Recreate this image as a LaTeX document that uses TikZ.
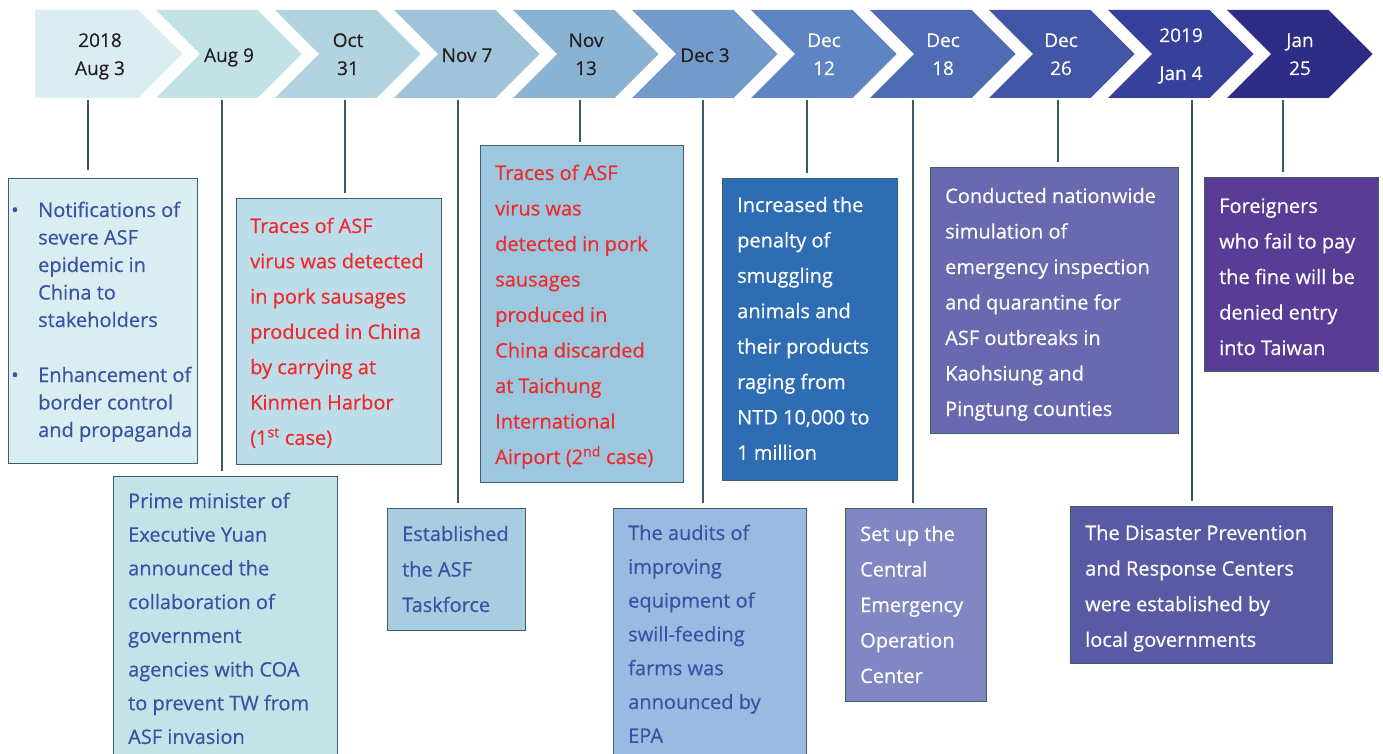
\documentclass[tikz,border=0pt]{standalone}
\usepackage{fontspec}
\setmainfont{Open Sans}[FakeBold=0.45]
\newfontfamily\datefam{Open Sans}[FakeBold=0.3]
\definecolor{cA}{HTML}{DAEDF1}
\definecolor{cB}{HTML}{C4E1E7}
\definecolor{cC}{HTML}{B2D3E0}
\definecolor{cD}{HTML}{9FC3D9}
\definecolor{cE}{HTML}{8AB2D3}
\definecolor{cF}{HTML}{729BCB}
\definecolor{cG}{HTML}{5F84C2}
\definecolor{cH}{HTML}{4F6BB4}
\definecolor{cI}{HTML}{4356A5}
\definecolor{cJ}{HTML}{37409A}
\definecolor{cK}{HTML}{2E2D85}
\definecolor{fA}{HTML}{DAEDF1}
\definecolor{fB}{HTML}{C5E2E8}
\definecolor{fC}{HTML}{BDDDEB}
\definecolor{fD}{HTML}{A8CDE0}
\definecolor{fE}{HTML}{9DC6DF}
\definecolor{fF}{HTML}{99BBE1}
\definecolor{fG}{HTML}{2E6DB4}
\definecolor{fH}{HTML}{8087C3}
\definecolor{fI}{HTML}{6A68AF}
\definecolor{fJ}{HTML}{5A5AA4}
\definecolor{fK}{HTML}{583C96}
\definecolor{boxline}{HTML}{3D6068}
\definecolor{connline}{HTML}{3B5A63}
\definecolor{tblue}{HTML}{3A52A4}
\definecolor{tred}{HTML}{EE2A2A}
\definecolor{tdark}{HTML}{231F20}
\tikzset{
  boxst/.style={draw=boxline, line width=1.4pt, anchor=north west, inner sep=0pt},
  txt/.style={anchor=base west, inner sep=0pt, text=#1},
  datest/.style={anchor=base, inner sep=0pt, text=#1, font={\datefam\fontsize{19}{28}\selectfont}},
  conn/.style={draw=connline, line width=1.2pt, shorten >=5pt},
}
\begin{document}
\begin{tikzpicture}[x=1pt,y=-1pt]
\useasboundingbox (0,0) rectangle (1383,754);
% chevrons
\fill[cA] (35,10) -- (138.5,10) -- (182.5,54) -- (138.5,98) -- (35,98) -- cycle;
\foreach \i/\col in {1/cB,2/cC,3/cD,4/cE,5/cF,6/cG,7/cH,8/cI,9/cJ,10/cK}{
  \pgfmathsetmacro\xl{156+119*(\i-1)}
  \fill[\col] (\xl,10) -- ++(101.5,0) -- ++(44,44) -- ++(-44,44) -- ++(-101.5,0) -- ++(44,-44) -- cycle;
}
% dates
\node[datest=tdark] (d0) at (100,47) {\begin{tabular}[t]{@{}c@{}}2018\\Aug 3\end{tabular}};
\node[datest=tdark] (d1) at (229,62) {Aug 9};
\node[datest=tdark] (d2) at (348,47) {\begin{tabular}[t]{@{}c@{}}Oct\\31\end{tabular}};
\node[datest=tdark] (d3) at (467,62) {Nov 7};
\node[datest=tdark] (d4) at (586,47) {\begin{tabular}[t]{@{}c@{}}Nov\\13\end{tabular}};
\node[datest=tdark] (d5) at (705,62) {Dec 3};
\node[datest=white] (d6) at (824,47) {\begin{tabular}[t]{@{}c@{}}Dec\\12\end{tabular}};
\node[datest=white] (d7) at (943,47) {\begin{tabular}[t]{@{}c@{}}Dec\\18\end{tabular}};
\node[datest=white] (d8) at (1061,47) {\begin{tabular}[t]{@{}c@{}}Dec\\26\end{tabular}};
\node[datest=white, font={\datefam\fontsize{19}{38}\selectfont}] (d9) at (1181,42) {\begin{tabular}[t]{@{}c@{}}2019\\Jan 4\end{tabular}};
\node[datest=white] (d10) at (1300,47) {\begin{tabular}[t]{@{}c@{}}Jan\\25\end{tabular}};
% boxes
\node[boxst, fill=fA, minimum width=189pt, minimum height=285pt] (b1) at (8,178) {};
\node[boxst, fill=fB, minimum width=224pt, minimum height=290pt] (b2) at (113,476) {};
\node[boxst, fill=fC, minimum width=205pt, minimum height=266pt] (b3) at (236,198) {};
\node[boxst, fill=fD, minimum width=138pt, minimum height=122pt] (b4) at (387,508) {};
\node[boxst, fill=fE, minimum width=203pt, minimum height=337pt] (b5) at (480,145) {};
\node[boxst, fill=fF, minimum width=193pt, minimum height=260pt] (b6) at (613,508) {};
\node[boxst, fill=fG, minimum width=175pt, minimum height=302pt] (b7) at (722,178) {};
\node[boxst, fill=fH, minimum width=141pt, minimum height=193pt] (b8) at (845,508) {};
\node[boxst, fill=fI, minimum width=248pt, minimum height=266pt] (b9) at (930,167) {};
\node[boxst, fill=fJ, minimum width=262pt, minimum height=157pt] (b10) at (1070,506) {};
\node[boxst, fill=fK, minimum width=174pt, minimum height=194pt] (b11) at (1204,177) {};
% connectors
\coordinate (k0) at (88,100);
\coordinate (k1) at (222,100);
\coordinate (k2) at (345,100);
\coordinate (k3) at (458,100);
\coordinate (k4) at (580,100);
\coordinate (k5) at (703,100);
\coordinate (k6) at (807,100);
\coordinate (k7) at (913,100);
\coordinate (k8) at (1058,100);
\coordinate (k9) at (1192,100);
\coordinate (k10) at (1283,100);
\draw[conn, shorten >=8pt] (k0) -- (k0 |- b1.north);
\draw[conn] (k1) -- (k1 |- b2.north);
\draw[conn] (k2) -- (k2 |- b3.north);
\draw[conn] (k3) -- (k3 |- b4.north);
\draw[conn, shorten >=3pt] (k4) -- (k4 |- b5.north);
\draw[conn] (k5) -- (k5 |- b6.north);
\draw[conn] (k6) -- (k6 |- b7.north);
\draw[conn] (k7) -- (k7 |- b8.north);
\draw[conn] (k8) -- (k8 |- b9.north);
\draw[conn] (k9) -- (k9 |- b10.north);
\draw[conn] (k10) -- (k10 |- b11.north);
% texts
\node[txt=tblue, font={\fontsize{20}{27.5}\selectfont}] (t1) at (11,217) {\begin{tabular}[t]{@{}p{27pt}@{}l@{}}
•&Notifications of\\ &severe ASF\\ &epidemic in\\ &China to\\ &stakeholders\\ & \\
•&Enhancement of\\ &border control\\ &and propaganda\end{tabular}};
\node[txt=tblue, font={\fontsize{20}{33.7}\selectfont}] (t2) at (128,508) {\begin{tabular}[t]{@{}l@{}}
Prime minister of\\Executive Yuan\\announced the\\collaboration of\\government\\agencies with COA\\to prevent TW from\\ASF invasion\end{tabular}};
\node[txt=tred, font={\fontsize{20}{35.3}\selectfont}] (t3) at (250,233) {\begin{tabular}[t]{@{}l@{}}
Traces of ASF\\virus was detected\\in pork sausages\\produced in China\\by carrying at\\Kinmen Harbor\\(1\textsuperscript{st} case)\end{tabular}};
\node[txt=tblue, font={\fontsize{20}{35.5}\selectfont}] (t4) at (402,541) {\begin{tabular}[t]{@{}l@{}}
Established\\the ASF\\Taskforce\end{tabular}};
\node[txt=tred, font={\fontsize{20}{35.5}\selectfont}] (t5) at (495,180) {\begin{tabular}[t]{@{}l@{}}
Traces of ASF\\virus was\\detected in pork\\sausages\\produced in\\China discarded\\at Taichung\\International\\Airport (2\textsuperscript{nd} case)\end{tabular}};
\node[txt=tblue, font={\fontsize{20}{33.8}\selectfont}] (t6) at (628,540) {\begin{tabular}[t]{@{}l@{}}
The audits of\\improving\\equipment of\\swill-feeding\\farms was\\announced by\\EPA\end{tabular}};
\node[txt=white, font={\fontsize{20}{35.4}\selectfont}] (t7) at (737,212) {\begin{tabular}[t]{@{}l@{}}
Increased the\\penalty of\\smuggling\\animals and\\their products\\raging from\\NTD 10,000 to\\1 million\end{tabular}};
\node[txt=white, font={\fontsize{20}{35.5}\selectfont}] (t8) at (860,541) {\begin{tabular}[t]{@{}l@{}}
Set up the\\Central\\Emergency\\Operation\\Center\end{tabular}};
\node[txt=white, font={\fontsize{20}{35.5}\selectfont}] (t9) at (945,203) {\begin{tabular}[t]{@{}l@{}}
Conducted nationwide\\simulation of\\emergency inspection\\and quarantine for\\ASF outbreaks in\\Kaohsiung and\\Pingtung counties\end{tabular}};
\node[txt=white, font={\fontsize{20}{35.6}\selectfont}] (t10) at (1085,540) {\begin{tabular}[t]{@{}l@{}}
The Disaster Prevention\\and Response Centers\\were established by\\local governments\end{tabular}};
\node[txt=white, font={\fontsize{20}{35.5}\selectfont}] (t11) at (1219,213) {\begin{tabular}[t]{@{}l@{}}
Foreigners\\who fail to pay\\the fine will be\\denied entry\\into Taiwan\end{tabular}};
\end{tikzpicture}
\end{document}
